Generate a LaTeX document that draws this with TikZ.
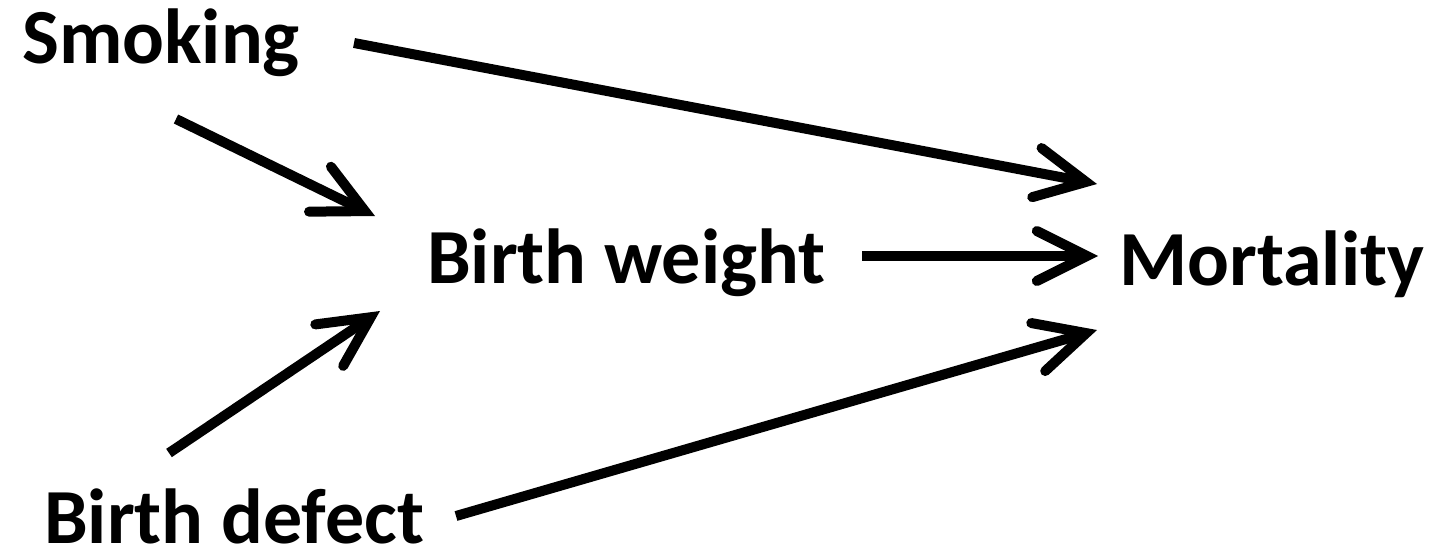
\documentclass[tikz,border=0pt]{standalone}
\usepackage{fontspec}
\setmainfont{Carlito}
\usetikzlibrary{arrows.meta}
\tikzset{
  lbl/.style={anchor=base west, inner sep=0pt, font=\fontsize{78}{90}\selectfont\bfseries},
  conn/.style={line width=10pt, line cap=butt,
    -{Straight Barb[length=50pt,width=50pt,line cap=round,line join=miter]}}
}
\begin{document}
\begin{tikzpicture}[x=1pt,y=-1pt]
\useasboundingbox (0,0) rectangle (1437,555);
\node[lbl] (smk) at (22,63) {Smoking};
\node[lbl] (bw) at (427,283) {Birth weight};
\node[lbl] (mort) at (1119,285) {Mortality};
\node[lbl] (bd) at (44,543) {Birth defect};
\coordinate (a1s) at (354,43);  \coordinate (a1e) at (1097,184);
\coordinate (a2s) at (176,119); \coordinate (a2e) at (375,216);
\coordinate (a3s) at (169,453); \coordinate (a3e) at (380,311);
\coordinate (a4s) at (862,256); \coordinate (a4e) at (1098,256);
\coordinate (a5s) at (456,516); \coordinate (a5e) at (1097,330);
\draw[conn] (a1s) -- (a1e);
\draw[conn] (a2s) -- (a2e);
\draw[conn] (a3s) -- (a3e);
\draw[conn] (a4s) -- (a4e);
\draw[conn] (a5s) -- (a5e);
\end{tikzpicture}
\end{document}
